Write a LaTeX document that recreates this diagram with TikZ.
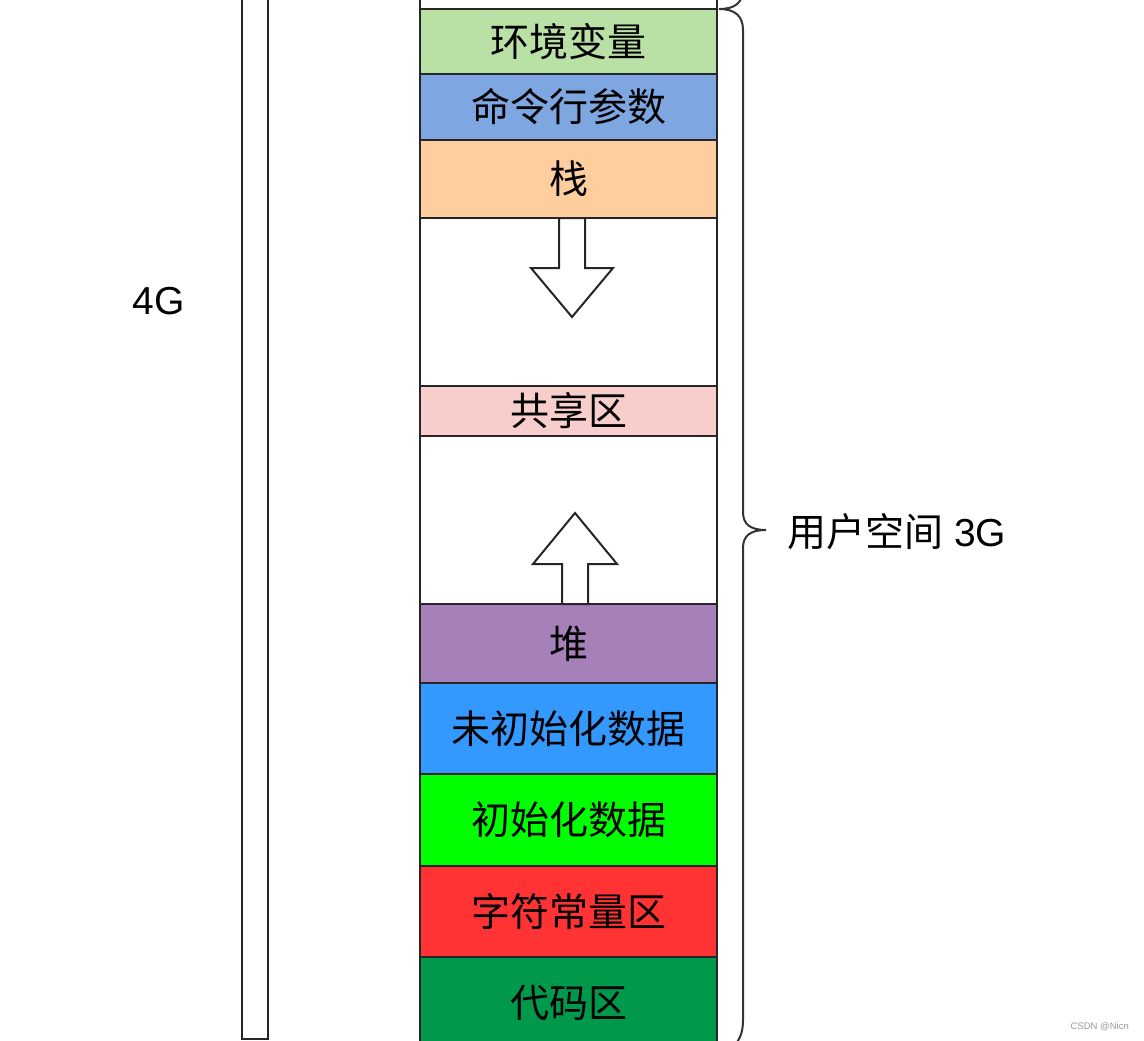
\documentclass[tikz,border=0pt]{standalone}
\usepackage{fontspec}
\setmainfont{Liberation Sans}
\newfontfamily\cjk{Noto Sans CJK SC}
\definecolor{cEnv}{HTML}{B9E0A5}
\definecolor{cCmd}{HTML}{7EA6E0}
\definecolor{cStack}{HTML}{FFCE9F}
\definecolor{cShare}{HTML}{F8CECC}
\definecolor{cHeap}{HTML}{A680B8}
\definecolor{cBss}{HTML}{3399FF}
\definecolor{cData}{HTML}{00FF00}
\definecolor{cRo}{HTML}{FF3333}
\definecolor{cCode}{HTML}{00994C}
\begin{document}
\begin{tikzpicture}[x=1pt,y=-1pt,
  seg/.style={draw=black!85,line width=2pt,minimum width=297pt,inner sep=0pt,outer sep=0pt,
    font=\cjk\fontsize{39}{39}\selectfont},
  blockarrow/.style={draw=black!85,line width=2pt,fill=white,line join=miter},
  bracepath/.style={draw=black!80,line width=2pt},
  lbl/.style={font=\fontsize{39}{39}\selectfont,inner sep=0pt}]
\useasboundingbox (0,0) rectangle (1144,1041);
% left 4G bar
\node[draw=black!85,line width=2pt,fill=white,minimum width=26pt,minimum height=1060pt,inner sep=0pt] (bar) at (255,509) {};
\node[lbl,anchor=center] (g4) at (159,301) {4G};
% memory column
\node[seg,fill=white,minimum height=29pt] (kern) at (568.5,-5.5) {};
\node[seg,fill=cEnv,minimum height=65pt] (env) at (568.5,41.5) {环境变量};
\node[seg,fill=cCmd,minimum height=66pt] (cmd) at (568.5,107) {命令行参数};
\node[seg,fill=cStack,minimum height=78pt] (stack) at (568.5,179) {栈};
\node[seg,fill=white,minimum height=168pt] (gap1) at (568.5,302) {};
\node[seg,fill=cShare,minimum height=50pt] (share) at (568.5,411) {共享区};
\node[seg,fill=white,minimum height=168pt] (gap2) at (568.5,520) {};
\node[seg,fill=cHeap,minimum height=79pt] (heap) at (568.5,643.5) {堆};
\node[seg,fill=cBss,minimum height=91pt] (bss) at (568.5,728.5) {未初始化数据};
\node[seg,fill=cData,minimum height=92pt] (data) at (568.5,820) {初始化数据};
\node[seg,fill=cRo,minimum height=91pt] (ro) at (568.5,911.5) {字符常量区};
\node[seg,fill=cCode,minimum height=92pt] (code) at (568.5,1003) {代码区};
% growth arrows
\draw[blockarrow] (559,218) -- (585,218) -- (585,268) -- (613,268) -- (572,317) -- (531,268) -- (559,268) -- cycle;
\draw[blockarrow] (562,604) -- (588,604) -- (588,564) -- (617,564) -- (575,513) -- (533,564) -- (562,564) -- cycle;
% braces
\draw[bracepath] (743,-12) .. controls (743,3) and (735,9) .. (719,9);
\draw[bracepath] (719,9) .. controls (735,9) and (743,16) .. (743,30) -- (743,512)
  .. controls (743,524) and (750,530) .. (766,530);
\draw[bracepath] (766,530) .. controls (750,530) and (743,536) .. (743,548) -- (743,1020)
  .. controls (743,1032) and (740,1038) .. (736,1044);
\coordinate (tip) at (766,530);
\node[lbl,anchor=west] (user) at (787,532) {{\cjk 用户空间} 3G};
% watermark
\node[font=\fontsize{9.5}{9.5}\selectfont,text=black!40,anchor=east,inner sep=0pt] (wm) at (1129,1027) {CSDN @Nicn};
\end{tikzpicture}
\end{document}
